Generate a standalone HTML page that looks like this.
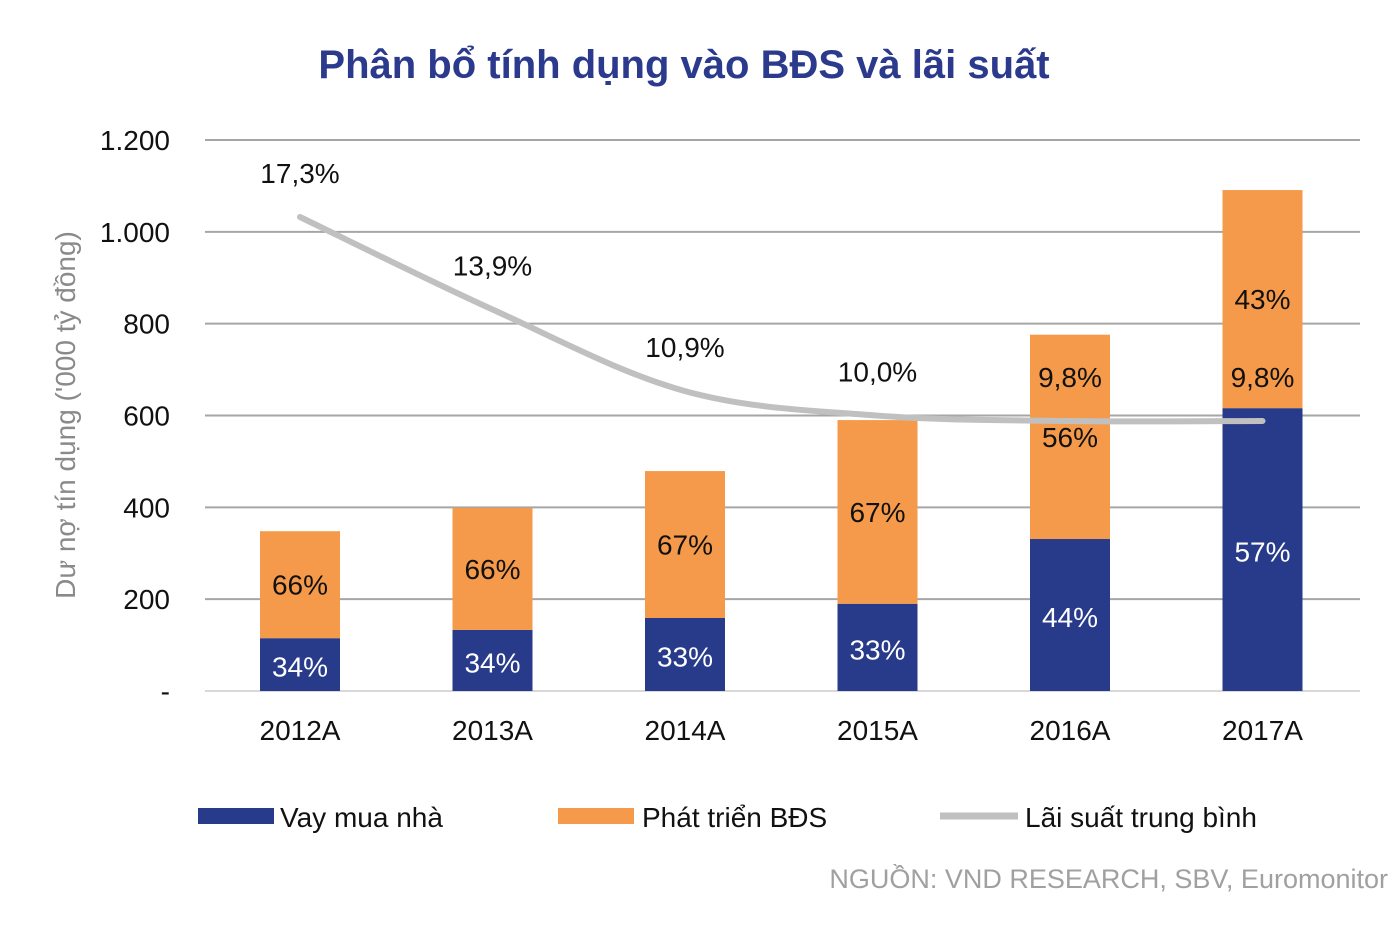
<!DOCTYPE html>
<html><head><meta charset="utf-8"><style>
body{margin:0;background:#fff;}
svg{display:block;font-family:"Liberation Sans",sans-serif;}
</style></head><body>
<svg id="chart" width="1398" height="926" viewBox="0 0 1398 926">
<text x="684" y="78" text-anchor="middle" font-size="40" font-weight="bold" fill="#2b3a8c">Phân bổ tính dụng vào BĐS và lãi suất</text>
<g id="grid"></g>
<g id="yticks"></g>
<text transform="translate(75,415) rotate(-90)" text-anchor="middle" font-size="28" fill="#8a8a8a">Dư nợ tín dụng ('000 tỷ đồng)</text>
<g id="bars"></g>
<g id="line"></g>
<g id="xlabels"></g>
<g>
<rect x="198" y="808" width="76" height="16" fill="#283a8a"/>
<text x="280" y="827" font-size="28" fill="#111">Vay mua nhà</text>
<rect x="558" y="808" width="76" height="16" fill="#f59a4a"/>
<text x="642" y="827" font-size="28" fill="#111">Phát triển BĐS</text>
<line x1="940" y1="816" x2="1018" y2="816" stroke="#c0c0c0" stroke-width="7"/>
<text x="1025" y="827" font-size="28" fill="#111">Lãi suất trung bình</text>
</g>
<text x="1388" y="888" text-anchor="end" font-size="27" fill="#a0a0a0">NGUỒN: VND RESEARCH, SBV, Euromonitor</text>
</svg>
<script>
const categories=["2012A","2013A","2014A","2015A","2016A","2017A"];
const homeLoans=[115,133,159,190,331,616];
const development=[233,266,320,400,445,475];
const homePctLabels=["34%","34%","33%","33%","44%","57%"];
const devPctLabels=["66%","66%","67%","67%","56%","43%"];
const rates=[17.3,13.9,10.9,10.0,9.8,9.8];
const rateLabels=["17,3%","13,9%","10,9%","10,0%","9,8%","9,8%"];
const yTicks=[0,200,400,600,800,1000,1200];
const yTickLabels=["-","200","400","600","800","1.000","1.200"];

const NS="http://www.w3.org/2000/svg";
const y=v=>691-v*(551/1200);
const x=i=>300+i*192.5;
const yr=r=>421-(r-9.8)*27.2;
function mk(tag,attrs,parent,text){const e=document.createElementNS(NS,tag);for(const k in attrs)e.setAttribute(k,attrs[k]);if(text!==undefined)e.textContent=text;parent.appendChild(e);return e;}
const grid=document.getElementById('grid'),yt=document.getElementById('yticks'),bars=document.getElementById('bars'),line=document.getElementById('line'),xl=document.getElementById('xlabels');
yTicks.forEach((t,i)=>{
  const g=mk('line',{x1:205,x2:1360,y1:y(t),y2:y(t),stroke:i===0?'#d8d8d8':'#a6a6a6','stroke-width':2},grid);
  
  
  const tl=mk('text',{x:170,y:y(t)+10,'text-anchor':'end','font-size':28,fill:'#111'},yt,yTickLabels[i]);
  
  
});
categories.forEach((c,i)=>{
  const cx=x(i),w=80;
  const b=mk('rect',{x:cx-w/2,y:y(homeLoans[i]),width:w,height:y(0)-y(homeLoans[i]),fill:'#283a8a'},bars);
  
  
  const tot=homeLoans[i]+development[i];
  const o=mk('rect',{x:cx-w/2,y:y(tot),width:w,height:y(homeLoans[i])-y(tot),fill:'#f59a4a'},bars);
  
  
  const t1=mk('text',{x:cx,y:(y(homeLoans[i])+y(0))/2+12,'text-anchor':'middle','font-size':28,fill:'#fff'},bars,homePctLabels[i]);
  
  
  const t2=mk('text',{x:cx,y:(y(tot)+y(homeLoans[i]))/2+10,'text-anchor':'middle','font-size':28,fill:'#111'},bars,devPctLabels[i]);
  
  
  const xt=mk('text',{x:cx,y:740,'text-anchor':'middle','font-size':28,fill:'#111'},xl,c);
  
  
});
// smooth line (Catmull-Rom)
const pts=rates.map((r,i)=>[x(i),yr(r)]);
let d=`M${pts[0][0]},${pts[0][1]}`;
for(let i=0;i<pts.length-1;i++){
  const p0=pts[Math.max(0,i-1)],p1=pts[i],p2=pts[i+1],p3=pts[Math.min(pts.length-1,i+2)];
  const c1=[p1[0]+(p2[0]-p0[0])/6,p1[1]+(p2[1]-p0[1])/6];
  const c2=[p2[0]-(p3[0]-p1[0])/6,p2[1]-(p3[1]-p1[1])/6];
  d+=` C${c1[0]},${c1[1]} ${c2[0]},${c2[1]} ${p2[0]},${p2[1]}`;
}
const lp=mk('path',{d:d,fill:'none',stroke:'#c0c0c0','stroke-width':6,'stroke-linecap':'round'},line);


rates.forEach((r,i)=>{
  const t=mk('text',{x:x(i),y:yr(r)-34,'text-anchor':'middle','font-size':28,fill:'#111'},line,rateLabels[i]);
  
  
});
</script>
</body></html>
